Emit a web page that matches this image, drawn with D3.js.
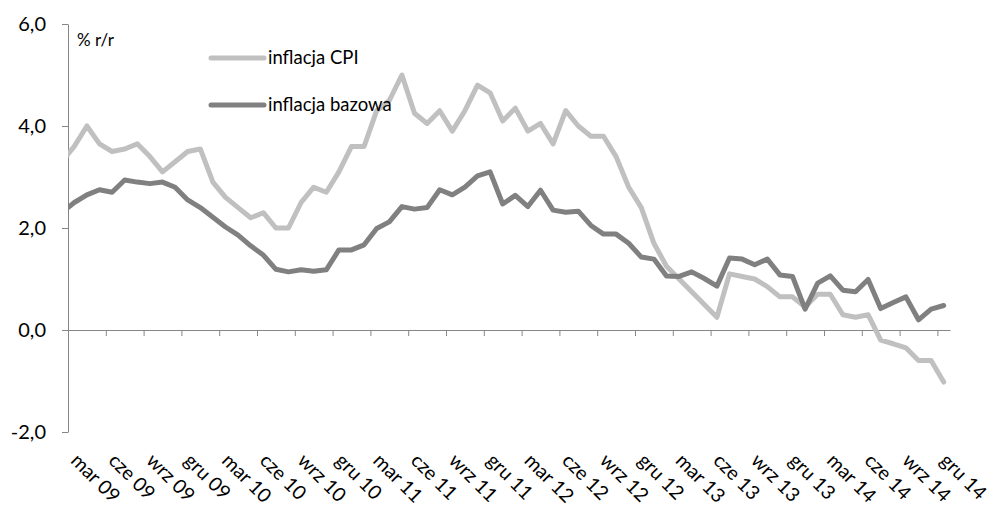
<!DOCTYPE html>
<html>
<head>
<meta charset="utf-8">
<script src="https://cdn.jsdelivr.net/npm/d3@7"></script>
<style>
  body { margin: 0; background: #fff; }
  text { font-family: Lato, "Open Sans", sans-serif; fill: #000; }
</style>
</head>
<body>
<div id="plotspace"></div>
<script>
// month abbreviations and years used to build the category list (lut 09 .. gru 14)
var miesiace = ["sty", "lut", "mar", "kwi", "maj", "cze", "lip", "sie", "wrz", "paź", "lis", "gru"];
var lata = ["09", "10", "11", "12", "13", "14"];

// inflacja CPI, % r/r, from lut 09 to gru 14
var cpi = [3.3,
    3.6, 4.0, 3.65, 3.5, 3.55, 3.65, 3.4, 3.1, 3.3, 3.5,
    3.55, 2.9, 2.6, 2.4, 2.2, 2.3, 2.0, 2.0, 2.5, 2.8, 2.7, 3.1,
    3.6, 3.6, 4.3, 4.5, 5.0, 4.25, 4.05, 4.3, 3.9, 4.3, 4.8, 4.65,
    4.1, 4.35, 3.9, 4.05, 3.65, 4.3, 4.0, 3.8, 3.8, 3.4, 2.8, 2.4,
    1.7, 1.25, 1.0, 0.75, 0.5, 0.25, 1.1, 1.05, 1.0, 0.85, 0.65, 0.65,
    0.45, 0.7, 0.7, 0.3, 0.25, 0.3, -0.2, -0.27, -0.35, -0.6, -0.6, -1.02];

// inflacja bazowa, % r/r, same months
var bazowa = [2.3,
    2.5, 2.65, 2.75, 2.7, 2.94, 2.9, 2.87, 2.9, 2.8, 2.55,
    2.4, 2.21, 2.02, 1.86, 1.65, 1.47, 1.19, 1.14, 1.18, 1.15, 1.18, 1.57,
    1.57, 1.67, 1.99, 2.12, 2.42, 2.37, 2.4, 2.75, 2.65, 2.8, 3.02, 3.1,
    2.47, 2.64, 2.42, 2.74, 2.35, 2.31, 2.33, 2.05, 1.88, 1.88, 1.7, 1.43,
    1.39, 1.06, 1.05, 1.14, 1.01, 0.86, 1.41, 1.39, 1.28, 1.39, 1.08, 1.05,
    0.41, 0.92, 1.06, 0.78, 0.75, 0.99, 0.42, 0.54, 0.65, 0.2, 0.41, 0.48];

var yTicks = [-2, 0, 2, 4, 6];
var serieNames = ["inflacja CPI", "inflacja bazowa"];
var serieColors = ["#c0c0c0", "#808080"];

var months = [];
lata.forEach(function(rok, r) {
    miesiace.forEach(function(m, k) {
        if (r === 0 && k < 1) return;   // series start with lut 09
        months.push(m + " " + rok);
    });
});

var width = 992, height = 510;
var mLeft = 68, mRight = 950, mTop = 24, mBottom = 432;
var firstShown = 1;                 // mar 09 is the first labelled category
var nShown = months.length - firstShown;

var x = d3.scaleLinear().domain([-0.5, nShown - 0.5]).range([mLeft, mRight]);
var y = d3.scaleLinear().domain([-2, 6]).range([mBottom, mTop]);

var svg = d3.select("#plotspace").
    append("svg").
    attr("width", width).
    attr("height", height);

svg.append("defs").append("clipPath").attr("id", "plotclip").
    append("rect").
    attr("x", mLeft).attr("y", 0).
    attr("width", mRight - mLeft).attr("height", height);

// x axis on zero line, tick marks between every third category
var boundaries = d3.range(0, nShown, 3).map(function(i) { return i - 0.5; });
var xAxis = d3.axisBottom(x).tickValues(boundaries).tickFormat("").tickSize(6).tickSizeOuter(0);
var gx = svg.append("g").
    attr("transform", "translate(0," + y(0) + ")").
    call(xAxis);
gx.selectAll("path, line").attr("stroke", "#868686");

// y axis
var yAxis = d3.axisLeft(y).tickValues(yTicks).
    tickFormat(function(d) { return d.toFixed(1).replace(".", ","); }).
    tickSize(6).tickSizeOuter(0).tickPadding(16);
var gy = svg.append("g").
    attr("transform", "translate(" + mLeft + ",0)").
    call(yAxis);
gy.selectAll("path, line").attr("stroke", "#868686");
gy.selectAll("text").attr("font-size", 20).attr("font-family", "Lato, sans-serif").attr("fill", "#000");

svg.append("text").
    attr("x", 77).attr("y", 46).
    attr("font-size", 17).
    text("% r/r");

// category labels, rotated
var labelIdx = d3.range(0, nShown, 3);
svg.selectAll("text.xlab").
    data(labelIdx).
    enter().append("text").
    attr("class", "xlab").
    attr("transform", function(i) { return "translate(" + (x(i) + 5) + ",452) rotate(45)"; }).
    attr("dy", "0.7em").
    attr("font-size", 19.5).
    text(function(i) { return months[i + firstShown]; });

// lines
var line = d3.line().
    x(function(d, i) { return x(i - firstShown); }).
    y(function(d) { return y(d); });

var plot = svg.append("g").attr("clip-path", "url(#plotclip)");
[cpi, bazowa].forEach(function(s, k) {
    plot.append("path").
        attr("d", line(s)).
        attr("fill", "none").
        attr("stroke", serieColors[k]).
        attr("stroke-width", 5).
        attr("stroke-linejoin", "round").
        attr("stroke-linecap", "round");
});

// legend
var legend = svg.append("g");
serieNames.forEach(function(name, k) {
    var ly = 58 + k * 47;
    legend.append("line").
        attr("x1", 211).attr("x2", 264).
        attr("y1", ly).attr("y2", ly).
        attr("stroke", serieColors[k]).
        attr("stroke-width", 5).
        attr("stroke-linecap", "round");
    legend.append("text").
        attr("x", 268).attr("y", ly).
        attr("dy", "0.35em").
        attr("font-size", 18.5).
        text(name);
});
</script>
</body>
</html>
